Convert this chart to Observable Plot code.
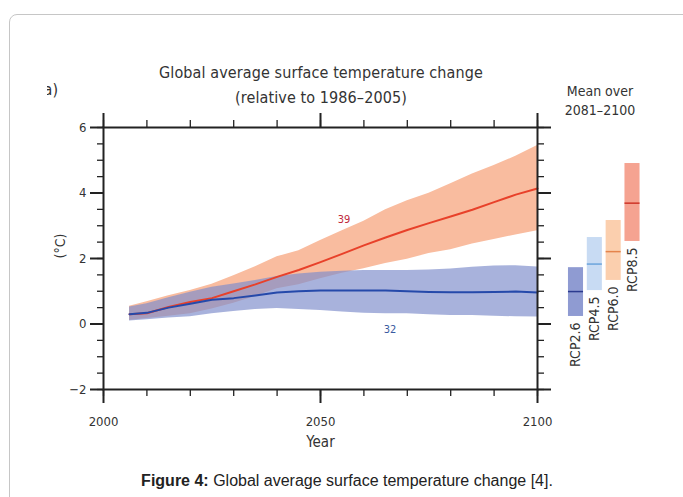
<!DOCTYPE html>
<html><head><meta charset="utf-8">
<script src="https://cdn.jsdelivr.net/npm/d3@7"></script>
<script src="https://cdn.jsdelivr.net/npm/@observablehq/plot@0.6"></script>
<style>
html,body{margin:0;padding:0;background:#fff;}
#root{position:relative;width:683px;height:497px;overflow:hidden;font-family:"Liberation Sans Narrow","DejaVu Sans Condensed","Roboto Condensed","Liberation Sans",sans-serif;color:#333;}
.card{position:absolute;left:9px;top:14px;width:720px;height:540px;border:1.5px solid #c6c6c6;border-radius:8px;box-sizing:border-box;}
.abs{position:absolute;}
#title{left:321px;top:60px;transform:translateX(-50%);text-align:center;font-size:16px;line-height:25px;letter-spacing:0.1px;white-space:nowrap;}
#mean{left:600px;top:82px;transform:translateX(-50%);text-align:center;font-size:14px;line-height:19px;white-space:nowrap;}
#panel{left:47px;top:80px;width:11px;height:22px;overflow:hidden;}
#panel span{position:absolute;right:0;top:0;font-size:16px;}
#caption{left:347px;top:472px;transform:translateX(-50%);white-space:nowrap;font-family:"Liberation Sans",Arial,sans-serif;font-size:16px;color:#222;}
#main{left:0;top:0;}
#side{left:550px;top:0;}
</style></head>
<body><div id="root">
<div class="card"></div>
<div id="panel" class="abs"><span>a)</span></div>
<div id="title" class="abs">Global average surface temperature change<br>(relative to 1986–2005)</div>
<div id="mean" class="abs">Mean over<br>2081–2100</div>
<div id="main" class="abs"></div>
<div id="side" class="abs"></div>
<div id="caption" class="abs"><b>Figure 4:</b> Global average surface temperature change [4].</div>
</div>
<script>
// ---- data ----
const years = [2006,2010,2015,2020,2025,2030,2035,2040,2045,2050,2055,2060,2065,2070,2075,2080,2085,2090,2095,2100];
const rcp85Mean = [0.30,0.33,0.52,0.67,0.79,1.00,1.21,1.44,1.65,1.89,2.14,2.40,2.64,2.87,3.08,3.28,3.49,3.72,3.95,4.14];
const rcp85High = [0.54,0.68,0.86,1.02,1.21,1.47,1.75,2.05,2.24,2.55,2.85,3.14,3.49,3.76,3.99,4.28,4.58,4.84,5.12,5.45];
const rcp85Low  = [0.11,0.17,0.24,0.31,0.46,0.63,0.84,1.08,1.20,1.38,1.55,1.69,1.85,1.98,2.15,2.27,2.44,2.58,2.72,2.85];
const rcp26Mean = [0.30,0.34,0.50,0.62,0.74,0.79,0.87,0.96,1.00,1.02,1.02,1.02,1.02,1.00,0.98,0.97,0.97,0.98,0.99,0.96];
const rcp26High = [0.52,0.62,0.80,0.97,1.12,1.22,1.33,1.45,1.53,1.58,1.61,1.63,1.63,1.63,1.65,1.68,1.73,1.77,1.78,1.74];
const rcp26Low  = [0.09,0.13,0.18,0.22,0.31,0.38,0.44,0.47,0.44,0.41,0.37,0.33,0.31,0.31,0.28,0.26,0.26,0.24,0.22,0.21];

const scenarios = ["RCP2.6","RCP4.5","RCP6.0","RCP8.5"];
const endMean = [0.99,1.83,2.21,3.69];
const endLow  = [0.23,1.02,1.33,2.52];
const endHigh = [1.72,2.64,3.16,4.90];
const endFill = ["#8f9bd2","#c8dbf3","#fbcfae","#f5a391"];
const endLine = ["#2b3a8f","#6ba4dc","#e5844c","#cf3428"];

const countLabels = ["39","32"];
const countYears  = [2055.4,2066];
const countValues = [3.19,-0.17];
const countColors = ["#c0283c","#3a5aa0"];

const xMajor = [2000,2050,2100];
const xMinor = [2000,2010,2020,2030,2040,2050,2060,2070,2080,2090,2100];
const yMajor = [-2,0,2,4,6];
const yMinor = [-2,-1.5,-1,-0.5,0,0.5,1,1.5,2,2.5,3,3.5,4,4.5,5,5.5,6];

// ---- tables ----
const red = years.map((year,i)=>({year, lo:rcp85Low[i], hi:rcp85High[i], mean:rcp85Mean[i]}));
const blue = years.map((year,i)=>({year, lo:rcp26Low[i], hi:rcp26High[i], mean:rcp26Mean[i]}));
const counts = countLabels.map((t,i)=>({t, year:countYears[i], v:countValues[i], c:countColors[i]}));
const ends = scenarios.map((s,i)=>({s, i, lo:endLow[i], hi:endHigh[i], mean:endMean[i], fill:endFill[i], line:endLine[i]}));

const FONT = '"Liberation Sans Narrow","DejaVu Sans Condensed","Roboto Condensed","Liberation Sans",sans-serif';
const blank = () => "";
const AX = "#222";

const main = Plot.plot({
  width: 560, height: 460,
  marginLeft: 103, marginRight: 23, marginTop: 127, marginBottom: 71,
  x: {domain: [2000,2100]},
  y: {domain: [-2,6]},
  style: {fontFamily: FONT, fontSize: "13px", color: "#333", background: "transparent"},
  marks: [
    Plot.areaY(red, {x:"year", y1:"lo", y2:"hi", fill:"#f9bc9f"}),
    Plot.areaY(blue, {x:"year", y1:"lo", y2:"hi", fill:"#7f8dcb", fillOpacity:0.68}),
    Plot.line(red, {x:"year", y:"mean", stroke:"#e8412a", strokeWidth:2}),
    Plot.line(blue, {x:"year", y:"mean", stroke:"#2549aa", strokeWidth:2}),
    Plot.text(counts, {x:"year", y:"v", text:"t", fill:"c", fontSize:11}),
    Plot.frame({stroke: AX, strokeWidth: 2}),
    Plot.axisX({anchor:"bottom", ticks:xMinor, tickSize:7, tickFormat:blank, stroke:AX, strokeWidth:1.3, label:null}),
    Plot.axisX({anchor:"bottom", ticks:xMajor, tickSize:14, tickPadding:13, tickFormat:d=>String(d), stroke:AX, strokeWidth:2, fontSize:13, label:null}),
    Plot.axisX({anchor:"top", ticks:xMinor, tickSize:8, tickFormat:blank, stroke:AX, strokeWidth:1.3, label:null}),
    Plot.axisX({anchor:"top", ticks:xMajor, tickSize:15, tickFormat:blank, stroke:AX, strokeWidth:2, label:null}),
    Plot.axisY({anchor:"left", ticks:yMinor, tickSize:6, tickFormat:blank, stroke:AX, strokeWidth:1.3, label:null}),
    Plot.axisY({anchor:"left", ticks:yMajor, tickSize:13, tickPadding:4, tickFormat:d=>d<0?"\u2212"+Math.abs(d):String(d), stroke:AX, strokeWidth:2, fontSize:13, label:null}),
    Plot.axisY({anchor:"right", ticks:yMinor, tickSize:6, tickFormat:blank, stroke:AX, strokeWidth:1.3, label:null}),
    Plot.axisY({anchor:"right", ticks:yMajor, tickSize:13, tickFormat:blank, stroke:AX, strokeWidth:2, label:null}),
    Plot.text(["Year"], {frameAnchor:"bottom", dy:57, fontSize:15, fill:"#333"}),
    Plot.text(["(°C)"], {frameAnchor:"left", dx:-43, rotate:-90, fontSize:14, fill:"#333"})
  ]
});
document.getElementById("main").appendChild(main);

const side = Plot.plot({
  width: 133, height: 460,
  marginLeft: 0, marginRight: 0, marginTop: 127, marginBottom: 71,
  x: {domain: [0,3], range: [25.5, 82], axis: null},
  y: {domain: [-2,6], axis: null},
  style: {fontFamily: FONT, fontSize: "14px", color: "#333", background: "transparent"},
  marks: [
    Plot.rect(ends, {x1:d=>d.i-0.4, x2:d=>d.i+0.4, y1:"lo", y2:"hi", fill:"fill"}),
    Plot.ruleY(ends, {y:"mean", x1:d=>d.i-0.4, x2:d=>d.i+0.4, stroke:"line", strokeWidth:1.5}),
    Plot.text(ends, {x:"i", y:"lo", text:"s", rotate:-90, textAnchor:"end", dy:6, fontSize:14, fill:"#333"})
  ]
});
document.getElementById("side").appendChild(side);
</script>
</body></html>
